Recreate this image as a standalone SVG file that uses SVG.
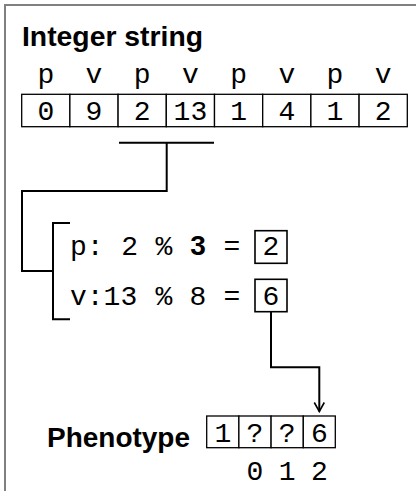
<svg xmlns="http://www.w3.org/2000/svg" width="416" height="491" viewBox="0 0 416 491">
<defs>
<style>
.frame{stroke:#808080;stroke-width:2;fill:none}
.cell{fill:#fff;stroke:#000;stroke-width:1.3}
.box{fill:#fff;stroke:#000;stroke-width:1.6}
.mono{font-family:"Liberation Mono","Courier New",monospace;font-size:28px;fill:#000}
.c{text-anchor:middle}
.title{font-family:"Liberation Sans",Arial,sans-serif;font-weight:bold;font-size:27px;fill:#000}
.b{font-family:"Liberation Sans",Arial,sans-serif;font-weight:bold}
.wire{stroke:#000;stroke-width:2;fill:none}
</style>
<marker id="arr" viewBox="0 0 12 12" refX="11" refY="6" markerWidth="12" markerHeight="12" markerUnits="userSpaceOnUse" orient="auto">
<path d="M2,1 L11,6 L2,11" fill="none" stroke="#000" stroke-width="1.6"/>
</marker>
</defs>
<rect width="416" height="491" fill="#fff"/>
<path class="frame" d="M5,491 V5 H416"/>

<g id="integer-string">
<text class="title" x="22" y="46" textLength="181" lengthAdjust="spacingAndGlyphs">Integer string</text>
<g class="mono c">
<text x="45.8" y="83">p</text><text x="94" y="83">v</text><text x="142.2" y="83">p</text><text x="190.4" y="83">v</text>
<text x="238.6" y="83">p</text><text x="286.8" y="83">v</text><text x="335" y="83">p</text><text x="383.2" y="83">v</text>
</g>
<g class="cell">
<rect x="21.7" y="94.3" width="48.2" height="32.4"/><rect x="69.9" y="94.3" width="48.2" height="32.4"/>
<rect x="118.1" y="94.3" width="48.2" height="32.4"/><rect x="166.3" y="94.3" width="48.2" height="32.4"/>
<rect x="214.5" y="94.3" width="48.2" height="32.4"/><rect x="262.7" y="94.3" width="48.2" height="32.4"/>
<rect x="310.9" y="94.3" width="48.2" height="32.4"/><rect x="359.1" y="94.3" width="48.2" height="32.4"/>
</g>
<g class="mono c">
<text x="45.8" y="120">0</text><text x="94" y="120">9</text><text x="142.2" y="120">2</text><text x="190.4" y="120">13</text>
<text x="238.6" y="120">1</text><text x="286.8" y="120">4</text><text x="335" y="120">1</text><text x="383.2" y="120">2</text>
</g>
</g>

<g id="decode">
<text class="mono c" y="255"><tspan x="78.4 95.2">p:</tspan><tspan x="129.6">2</tspan><tspan x="163.8">%</tspan><tspan class="b" x="198">3</tspan><tspan x="232">=</tspan></text>
<text class="mono c" y="304.5"><tspan x="78.4 95.2 112 128.8">v:13</tspan><tspan x="163.8">%</tspan><tspan x="198">8</tspan><tspan x="232">=</tspan></text>
<path class="wire" d="M70,223 H53 V319.3 H70"/>
</g>

<g id="result-p">
<rect class="box" x="255" y="230.7" width="32" height="32.6"/>
<text class="mono c" x="271" y="255">2</text>
</g>
<g id="result-v">
<rect class="box" x="255" y="279.3" width="32" height="32.4"/>
<text class="mono c" x="271" y="304.5">6</text>
</g>

<g id="phenotype">
<text class="title" x="47" y="447" textLength="143" lengthAdjust="spacingAndGlyphs">Phenotype</text>
<g class="cell">
<rect x="206.7" y="416" width="32.2" height="31.7"/><rect x="238.9" y="416" width="32.2" height="31.7"/>
<rect x="271.1" y="416" width="32.2" height="31.7"/><rect x="303.3" y="416" width="32" height="31.7"/>
</g>
<g class="mono c">
<text x="222.8" y="442">1</text><text x="255" y="442">?</text><text x="287.2" y="442">?</text><text x="319.3" y="442">6</text>
<text x="255" y="480">0</text><text x="287.2" y="480">1</text><text x="319.3" y="480">2</text>
</g>
</g>

<g id="connectors">
<path class="wire" d="M119,142.7 H214 M166.7,142.7 V191 H22 V271 H53"/>
<path class="wire" d="M271,311.7 V367.3 H319.3 V411.5" marker-end="url(#arr)"/>
</g>
</svg>
